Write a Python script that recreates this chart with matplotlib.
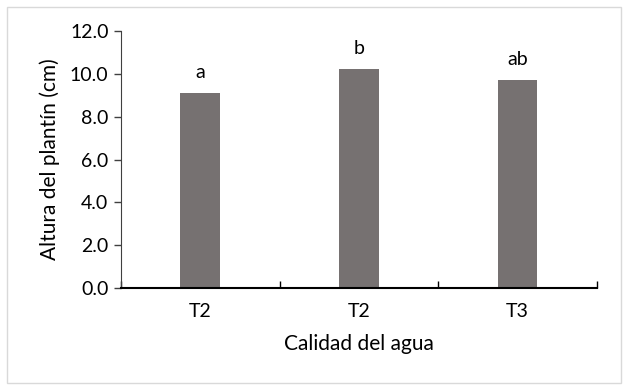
import numpy as np
import matplotlib
matplotlib.use('Agg')
import matplotlib.pyplot as plt
from matplotlib.patches import Rectangle

# Data
categories = ['T2', 'T2', 'T3']
heights = [9.1, 10.2, 9.7]
letters = ['a', 'b', 'ab']

plt.rcParams['font.family'] = ['Lato', 'DejaVu Sans']

fig = plt.figure(figsize=(6.27, 3.91), dpi=100)
ax = fig.add_axes([0.193, 0.263, 0.759, 0.658])

x = np.arange(len(categories))
ax.bar(x, heights, width=0.25, color='#767171', zorder=2)

for xi, h, lab in zip(x, heights, letters):
    ax.annotate(lab, (xi, h), xytext=(0, 9), textcoords='offset points',
                ha='center', va='bottom', fontsize=14, color='black')

ax.set_xlim(-0.5, 2.5)
ax.set_ylim(0, 12)
ax.set_yticks(np.arange(0, 12.1, 2))
ax.set_yticklabels([f'{v:.1f}' for v in np.arange(0, 12.1, 2)], fontsize=14)

ax.set_xticks(x)
ax.set_xticklabels(categories, fontsize=14)
ax.tick_params(axis='x', length=0, pad=11)
ax.set_xticks([-0.5, 0.5, 1.5, 2.5], minor=True)
ax.tick_params(axis='x', which='minor', direction='in', length=5, width=1, color='black')
ax.tick_params(axis='y', direction='out', length=5, width=1, color='#404040', pad=4)

for s in ['top', 'right']:
    ax.spines[s].set_visible(False)
ax.spines['left'].set_color('#404040')
ax.spines['bottom'].set_color('black')
ax.spines['bottom'].set_linewidth(1.5)

ax.set_ylabel('Altura del plantín (cm)', fontsize=15, labelpad=7)
ax.set_xlabel('Calidad del agua', fontsize=15, labelpad=10)

# light frame around the whole chart
fig.patches.append(Rectangle((7 / 627, 8 / 391), 614 / 627, 376 / 391,
                             transform=fig.transFigure, fill=False,
                             edgecolor='#D9D9D9', linewidth=1))

plt.savefig('out.png', dpi=100)
plt.close()
